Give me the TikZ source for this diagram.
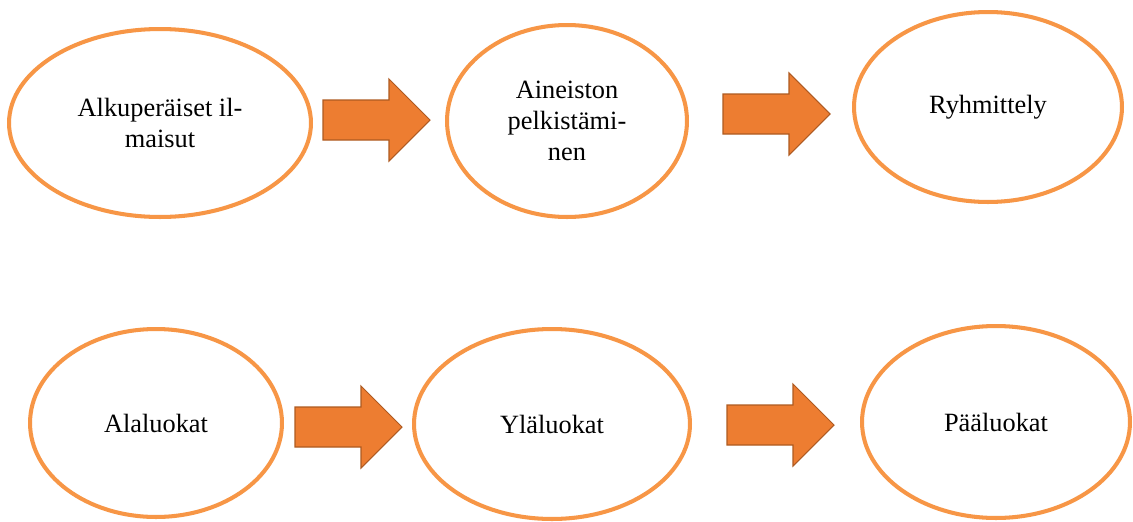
\documentclass[tikz,border=0pt]{standalone}
\usepackage{fontspec}
\setmainfont{Liberation Serif}
\usepackage{tikz}
\usetikzlibrary{shapes.geometric}
\definecolor{stepline}{RGB}{247, 150, 70}
\definecolor{arrowfill}{RGB}{237, 125, 49}
\definecolor{arrowline}{RGB}{174, 90, 33}

\tikzset{
  stage/.style={ellipse, draw=stepline, line width=2.3pt, fill=white,
    inner sep=0pt, align=center, font=\fontsize{15}{17.5}\selectfont},
  blockarrow/.style={fill=arrowfill, draw=arrowline, line width=0.6pt, line join=miter}
}

\begin{document}
\begin{tikzpicture}[x=0.02cm, y=-0.02cm]
  \useasboundingbox (0,0) rectangle (1133,521);
  % first row
  \node[stage, minimum width=6.04cm, minimum height=3.76cm] (orig) at (160,123) {Alkuperäiset il-\\maisut};
  \node[stage, minimum width=4.8cm,  minimum height=3.84cm] (pelk) at (567,121) {Aineiston\\pelkistämi-\\nen};
  \node[stage, minimum width=5.36cm, minimum height=3.8cm]  (ryhm) at (988,107) {Ryhmittely};
  % second row
  \node[stage, minimum width=5.04cm, minimum height=3.76cm] (ala)  at (156,423) {Alaluokat};
  \node[stage, minimum width=5.52cm, minimum height=3.8cm]  (yla)  at (552,424) {Yläluokat};
  \node[stage, minimum width=5.36cm, minimum height=3.84cm] (paa)  at (996,422) {Pääluokat};
  % arrow tails
  \coordinate (a1) at (323,120);
  \coordinate (a2) at (723,114);
  \coordinate (a3) at (295,427);
  \coordinate (a4) at (727,425);
  % block arrows
  \foreach \t in {a1,a2,a3,a4}
    \draw[blockarrow] (\t) ++(0,-20) -- ++(66,0) -- ++(0,-21) -- ++(41,41)
      -- ++(-41,41) -- ++(0,-21) -- ++(-66,0) -- cycle;
\end{tikzpicture}
\end{document}
